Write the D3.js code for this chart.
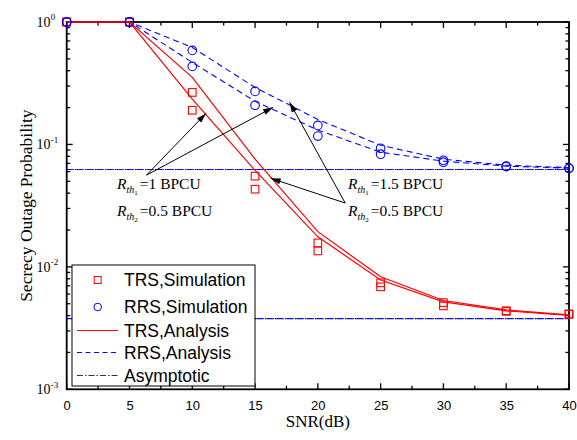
<!DOCTYPE html>
<html>
<head>
<meta charset="utf-8">
<script src="https://cdn.jsdelivr.net/npm/d3@7"></script>
<style>
  html, body { margin: 0; padding: 0; background: #fff; }
  svg { display: block; }
</style>
</head>
<body>
<svg id="chart" width="577" height="440"></svg>
<script>
// ---------------- data ----------------
const snr = [0, 5, 10, 15, 20, 25, 30, 35, 40];
const trsSimA = [1, 1, 0.266, 0.0551, 0.0157, 0.0074, 0.0051, 0.00438, 0.00413];
const trsSimB = [1, 1, 0.190, 0.0431, 0.0135, 0.00687, 0.0048, 0.00433, 0.00410];
const rrsSimA = [1, 1, 0.586, 0.271, 0.143, 0.0931, 0.0743, 0.0665, 0.0640];
const rrsSimB = [1, 1, 0.434, 0.209, 0.117, 0.0832, 0.0716, 0.0660, 0.0638];
const trsAnaA = [1, 1, 0.353, 0.0757, 0.0194, 0.0083, 0.00531, 0.00445, 0.00405];
const trsAnaB = [1, 1, 0.234, 0.0614, 0.0176, 0.00782, 0.00518, 0.00437, 0.00402];
const rrsAnaA = [1, 1, 0.62, 0.292, 0.160, 0.0985, 0.0757, 0.0677, 0.0646];
const rrsAnaB = [1, 1, 0.468, 0.225, 0.131, 0.0864, 0.0730, 0.0665, 0.0640];
const asymptoticLevels = [0.0624, 0.00378];
const xTicks = [0, 5, 10, 15, 20, 25, 30, 35, 40];
const yTicks = [1e-3, 1e-2, 1e-1, 1];
const yTickExp = ["-3", "-2", "-1", "0"];
const legendLabels = ["TRS,Simulation", "RRS,Simulation", "TRS,Analysis", "RRS,Analysis", "Asymptotic"];
// annotation anchors in data units: [snr, probability]
const leftOrigin = [6.35, 0.0561];
const leftTips = [[11.1, 0.1796], [16.44, 0.201]];
const rightOrigin = [22.18, 0.0332];
const rightTips = [[17.75, 0.2208], [16.24, 0.0530]];
const leftTextPos = [[4.01, 0.0431, "1"], [4.01, 0.0260, "0.5"]];
const rightTextPos = [[22.4, 0.0431, "1.5"], [22.4, 0.0260, "0.5"]];

// ---------------- setup ----------------
const svg = d3.select("#chart");
const L = 66.7, R = 569, T = 22, B = 389.3;
const x = d3.scaleLinear().domain([0, 40]).range([L, R]);
const y = d3.scaleLog().domain([1e-3, 1]).range([B, T]);
const RED = "#ff0000", BLUE = "#0000ff";
const SANS = "'Liberation Sans', Arial, sans-serif";
const SERIF = "'Liberation Serif', 'Times New Roman', serif";

const defs = svg.append("defs");
defs.append("marker").attr("id", "arr")
  .attr("viewBox", "0 0 10 6").attr("refX", 10).attr("refY", 3)
  .attr("markerWidth", 11).attr("markerHeight", 6).attr("markerUnits", "userSpaceOnUse")
  .attr("orient", "auto")
  .append("path").attr("d", "M0,0 L10,3 L0,6 Z").attr("fill", "#000");

// minor ticks
const yMinor = [];
for (let e = -3; e < 0; e++) for (let m = 2; m <= 9; m++) yMinor.push(m * Math.pow(10, e));
const xMinor = d3.range(2.5, 40, 5);

const gAx = svg.append("g");
function tickLines(vals, pos, orient, len) {
  vals.forEach(v => {
    const p = pos(v);
    if (orient === "b") gAx.append("line").attr("x1", p).attr("x2", p).attr("y1", B).attr("y2", B - len);
    if (orient === "t") gAx.append("line").attr("x1", p).attr("x2", p).attr("y1", T).attr("y2", T + len);
    if (orient === "l") gAx.append("line").attr("y1", p).attr("y2", p).attr("x1", L).attr("x2", L + len);
    if (orient === "r") gAx.append("line").attr("y1", p).attr("y2", p).attr("x1", R).attr("x2", R - len);
  });
}
tickLines(xTicks, x, "b", 6); tickLines(xTicks, x, "t", 6);
tickLines(xMinor, x, "b", 3.5); tickLines(xMinor, x, "t", 3.5);
tickLines(yTicks, y, "l", 6); tickLines(yTicks, y, "r", 6);
tickLines(yMinor, y, "l", 3.5); tickLines(yMinor, y, "r", 3.5);
gAx.selectAll("line").attr("stroke", "#000").attr("stroke-width", 1.3);

// bottom axis labels via d3 axis
const xAxis = d3.axisBottom(x).tickValues(xTicks).tickSize(0).tickPadding(11).tickFormat(d3.format("d"));
const gx = svg.append("g").attr("transform", `translate(0,${B})`).call(xAxis);
gx.select(".domain").remove();
gx.selectAll("text").attr("font-family", SANS).attr("font-size", 13).attr("fill", "#000");

// left axis labels 10^n
const gy = svg.append("g");
yTicks.forEach((v, i) => {
  const p = y(v);
  gy.append("text").attr("x", 50.5).attr("y", p + 5).attr("text-anchor", "end")
    .attr("font-family", SERIF).attr("font-size", 14).text("10");
  gy.append("text").attr("x", 50.8).attr("y", p - 1.8).attr("text-anchor", "start")
    .attr("font-family", SERIF).attr("font-size", 9).text(yTickExp[i]);
});

// frame
svg.append("rect").attr("x", L).attr("y", T).attr("width", R - L).attr("height", B - T)
  .attr("fill", "none").attr("stroke", "#000").attr("stroke-width", 1.8);

// axis titles
svg.append("text").attr("x", (L + R) / 2).attr("y", 427).attr("text-anchor", "middle")
  .attr("font-family", SERIF).attr("font-size", 17).text("SNR(dB)");
svg.append("text").attr("transform", `translate(31.5,${(T + B) / 2}) rotate(-90)`)
  .attr("text-anchor", "middle").attr("font-family", SERIF).attr("font-size", 17.5)
  .text("Secrecy Outage Probability");

// ---------------- series ----------------
const gPlot = svg.append("g");
const line = d3.line().x(d => x(d[0])).y(d => y(d[1]));
const zipS = arr => snr.map((s, i) => [s, arr[i]]);

// asymptotes
asymptoticLevels.forEach(v => {
  const pts = [[0, v], [40, v]];
  gPlot.append("path").attr("d", line(pts)).attr("fill", "none")
    .attr("stroke", BLUE).attr("stroke-width", 1.1).attr("stroke-dasharray", "7,3");
  gPlot.append("path").attr("d", line(pts)).attr("fill", "none")
    .attr("stroke", "#000").attr("stroke-width", 1.1).attr("stroke-dasharray", "1.5,8.5").attr("stroke-dashoffset", -8.2);
});

[rrsAnaA, rrsAnaB].forEach(a => gPlot.append("path").attr("d", line(zipS(a)))
  .attr("fill", "none").attr("stroke", BLUE).attr("stroke-width", 1.1).attr("stroke-dasharray", "6,4"));
[trsAnaA, trsAnaB].forEach(a => gPlot.append("path").attr("d", line(zipS(a)))
  .attr("fill", "none").attr("stroke", RED).attr("stroke-width", 1.2));

// markers
[trsSimA, trsSimB].forEach(a => gPlot.append("g").selectAll("rect").data(zipS(a)).join("rect")
  .attr("x", d => x(d[0]) - 3.8).attr("y", d => y(d[1]) - 3.8).attr("width", 7.6).attr("height", 7.6)
  .attr("fill", "none").attr("stroke", RED).attr("stroke-width", 1.1));
[rrsSimA, rrsSimB].forEach(a => gPlot.append("g").selectAll("circle").data(zipS(a)).join("circle")
  .attr("cx", d => x(d[0])).attr("cy", d => y(d[1])).attr("r", 4.3)
  .attr("fill", "none").attr("stroke", BLUE).attr("stroke-width", 1.1));

// ---------------- annotations ----------------
const gAnn = svg.append("g");
function arrows(origin, tips) {
  tips.forEach(t => gAnn.append("line")
    .attr("x1", x(origin[0])).attr("y1", y(origin[1]))
    .attr("x2", x(t[0])).attr("y2", y(t[1]))
    .attr("stroke", "#000").attr("stroke-width", 1).attr("marker-end", "url(#arr)"));
}
arrows(leftOrigin, leftTips);
arrows(rightOrigin, rightTips);

function rthText(pos, idx) {
  const [sx, py, val] = pos;
  const t = gAnn.append("text").attr("x", x(sx)).attr("y", y(py))
    .attr("font-family", SERIF).attr("font-size", 15.5).attr("fill", "#000");
  t.append("tspan").attr("font-style", "italic").text("R");
  t.append("tspan").attr("font-style", "italic").attr("font-size", 10).attr("dy", 4).text("th");
  t.append("tspan").attr("font-size", 7).attr("dy", 2).text(idx);
  t.append("tspan").attr("dy", -6).attr("dx", 2).text("=" + val + " BPCU");
}
leftTextPos.forEach((p, i) => rthText(p, i + 1));
rightTextPos.forEach((p, i) => rthText(p, i + 1));

// ---------------- legend ----------------
const lg = svg.append("g");
lg.append("rect").attr("x", 72).attr("y", 265).attr("width", 183).attr("height", 121)
  .attr("fill", "#fff").attr("stroke", "#000").attr("stroke-width", 1);
const rowsY = [280, 307, 330.5, 352.5, 375.5];
lg.append("rect").attr("x", 97.7 - 3.5).attr("y", rowsY[0] - 3.5).attr("width", 7).attr("height", 7)
  .attr("fill", "none").attr("stroke", RED).attr("stroke-width", 1);
lg.append("circle").attr("cx", 97.7).attr("cy", rowsY[1]).attr("r", 3.8)
  .attr("fill", "none").attr("stroke", BLUE).attr("stroke-width", 1);
lg.append("line").attr("x1", 77).attr("x2", 118).attr("y1", rowsY[2]).attr("y2", rowsY[2])
  .attr("stroke", RED).attr("stroke-width", 1.2);
lg.append("line").attr("x1", 77).attr("x2", 118).attr("y1", rowsY[3]).attr("y2", rowsY[3])
  .attr("stroke", BLUE).attr("stroke-width", 1.1).attr("stroke-dasharray", "5,3.5");
lg.append("line").attr("x1", 77).attr("x2", 118).attr("y1", rowsY[4]).attr("y2", rowsY[4])
  .attr("stroke", "#333").attr("stroke-width", 1.1).attr("stroke-dasharray", "6,2,1.5,2");
legendLabels.forEach((lab, i) => lg.append("text").attr("x", 124).attr("y", rowsY[i] + 6.3)
  .attr("font-family", SANS).attr("font-size", 17.5).attr("fill", "#000").text(lab));
</script>
</body>
</html>
